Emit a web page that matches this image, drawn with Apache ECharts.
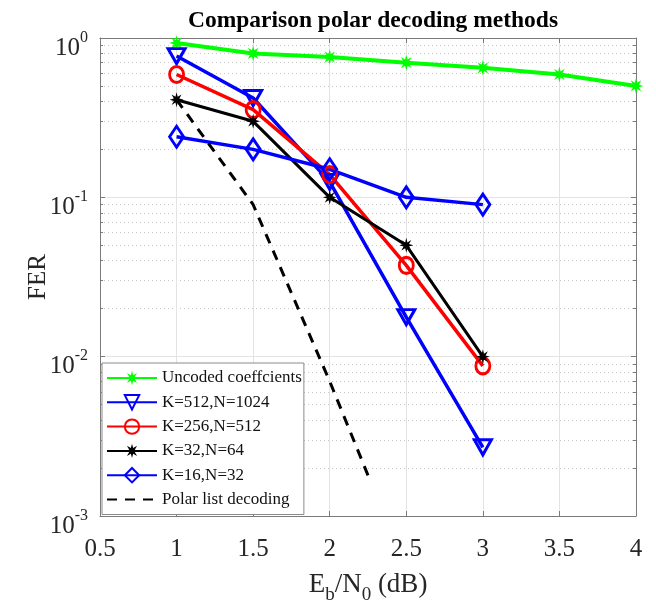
<!DOCTYPE html>
<html>
<head>
<meta charset="utf-8">
<script src="https://cdn.jsdelivr.net/npm/echarts@6/dist/echarts.min.js"></script>
<style>
  html, body { margin: 0; padding: 0; background: #ffffff; }
  #chart { width: 656px; height: 610px; }
</style>
</head>
<body>
<div id="chart"></div>
<script>
// Eb/N0 points (dB)
const ebn0Uncoded = [1, 1.5, 2, 2.5, 3, 3.5, 4];
const ebn0Polar = [1, 1.5, 2, 2.5, 3];
const ebn0List = [1, 1.5, 2, 2.25];

// Frame error rates
const uncoded = [0.93, 0.80, 0.76, 0.70, 0.65, 0.59, 0.50];
const k512n1024 = [0.77, 0.42, 0.125, 0.0177, 0.0027];
const k256n512 = [0.59, 0.355, 0.139, 0.0374, 0.00875];
const k32n64 = [0.41, 0.30, 0.10, 0.05, 0.01];
const k16n32 = [0.24, 0.20, 0.15, 0.10, 0.09];
const polarList = [0.41, 0.09, 0.007, 0.0018];

const seriesNames = [
  'Uncoded coeffcients',
  'K=512,N=1024',
  'K=256,N=512',
  'K=32,N=64',
  'K=16,N=32',
  'Polar list decoding'
];

// Axis ranges
const xMin = 0.5, xMax = 4, xStep = 0.5;
const yMin = 0.001, yMax = 1;

// Minor log ticks (2..9 within each decade)
const minorValues = [];
for (let e = -3; e < 0; e++) {
  for (let m = 2; m <= 9; m++) minorValues.push(+(m * Math.pow(10, e)).toPrecision(3));
}

const serif = "'Liberation Serif', 'Times New Roman', serif";
const axisGray = '#7a7a7a';
const textColor = '#262626';

function pairs(xs, ys) { return xs.map((x, i) => [x, ys[i]]); }

// Asterisk marker outline (8 spokes)
function asteriskPath() {
  const pts = [];
  for (let i = 0; i < 16; i++) {
    const a = i * Math.PI / 8 - Math.PI / 2;
    const r = i % 2 === 0 ? 10 : 4.2;
    pts.push((10 + r * Math.cos(a)).toFixed(2) + ' ' + (10 + r * Math.sin(a)).toFixed(2));
  }
  return 'path://M' + pts.join(' L') + ' Z';
}
const asterisk = asteriskPath();

const chart = echarts.init(document.getElementById('chart'), null, { renderer: 'canvas' });

const option = {
  animation: false,
  backgroundColor: '#ffffff',
  title: {
    text: 'Comparison polar decoding methods',
    left: 368,
    textAlign: 'center',
    top: 4,
    textStyle: { fontFamily: serif, fontWeight: 'bold', fontSize: 23.5, color: '#000' }
  },
  grid: { left: 100, right: 20, top: 38, bottom: 93, containLabel: false },
  legend: {
    orient: 'vertical',
    left: 102,
    top: 363,
    padding: [6, 2, 6, 4],
    itemWidth: 50,
    itemHeight: 18,
    itemGap: 6.3,
    backgroundColor: '#ffffff',
    borderColor: '#8a8a8a',
    borderWidth: 1,
    borderRadius: 0,
    textStyle: { fontFamily: serif, fontSize: 17, lineHeight: 18, color: '#111' },
    data: seriesNames
  },
  xAxis: [
    {
      type: 'value', position: 'bottom', min: xMin, max: xMax, interval: xStep,
      axisLine: { show: true, onZero: false, lineStyle: { color: axisGray, width: 1 } },
      axisTick: { show: true, inside: true, length: 5, lineStyle: { color: axisGray } },
      splitLine: { show: true, lineStyle: { color: '#e3e3e3', width: 1 } },
      axisLabel: { margin: 21, fontFamily: serif, fontSize: 25, color: textColor },
      name: '{n|E}{sub|b}{n|/N}{sub|0}{n| (dB)}',
      nameLocation: 'middle',
      nameGap: 55,
      nameTextStyle: {
        color: textColor,
        rich: {
          n: { fontFamily: serif, fontSize: 27, color: textColor, verticalAlign: 'top', lineHeight: 28 },
          sub: { fontFamily: serif, fontSize: 19, color: textColor, verticalAlign: 'top', lineHeight: 20, padding: [15, 0, 0, 0] }
        }
      }
    },
    {
      type: 'value', position: 'top', min: xMin, max: xMax, interval: xStep,
      axisLine: { show: true, onZero: false, lineStyle: { color: axisGray, width: 1 } },
      axisTick: { show: true, inside: true, length: 5, lineStyle: { color: axisGray } },
      splitLine: { show: false },
      axisLabel: { show: false }
    }
  ],
  yAxis: [
    {
      type: 'log', logBase: 10, position: 'left', min: yMin, max: yMax,
      axisLine: { show: true, onZero: false, lineStyle: { color: axisGray, width: 1 } },
      axisTick: { show: true, inside: true, length: 5, lineStyle: { color: axisGray } },
      splitLine: { show: true, lineStyle: { color: '#e3e3e3', width: 1 } },
      axisLabel: {
        margin: 12,
        padding: [14, 0, 0, 0],
        formatter: v => '{b|10}{s|' + Math.round(Math.log10(v)) + '}',
        rich: {
          b: { fontFamily: serif, fontSize: 25, color: textColor, verticalAlign: 'bottom' },
          s: { fontFamily: serif, fontSize: 16, color: textColor, verticalAlign: 'top', padding: [0, 0, 15, 0] }
        }
      },
      name: 'FER',
      nameLocation: 'middle',
      nameGap: 49,
      nameMoveOverlap: false,
      nameTextStyle: { fontFamily: serif, fontSize: 25, color: textColor }
    },
    {
      type: 'log', logBase: 10, position: 'right', min: yMin, max: yMax,
      axisLine: { show: true, onZero: false, lineStyle: { color: axisGray, width: 1 } },
      axisTick: { show: true, inside: true, length: 5, lineStyle: { color: axisGray } },
      splitLine: { show: false },
      axisLabel: { show: false }
    },
    {
      type: 'log', logBase: 10, position: 'left', min: yMin, max: yMax,
      axisLine: { show: false },
      axisTick: { show: true, inside: true, length: 3, customValues: minorValues, lineStyle: { color: axisGray } },
      splitLine: { show: true, lineStyle: { color: '#c8c8c8', width: 1, type: [1, 3] } },
      axisLabel: { show: false }
    },
    {
      type: 'log', logBase: 10, position: 'right', min: yMin, max: yMax,
      axisLine: { show: false },
      axisTick: { show: true, inside: true, length: 3, customValues: minorValues, lineStyle: { color: axisGray } },
      splitLine: { show: false },
      axisLabel: { show: false }
    }
  ],
  series: [
    {
      name: seriesNames[0], type: 'line', data: pairs(ebn0Uncoded, uncoded),
      symbol: asterisk, symbolSize: [15, 16],
      lineStyle: { color: '#00ff00', width: 4 },
      itemStyle: { color: '#00ff00' }
    },
    {
      name: seriesNames[1], type: 'line', data: pairs(ebn0Polar, k512n1024),
      symbol: 'triangle', symbolRotate: 180, symbolSize: [17, 15],
      lineStyle: { color: '#0000ff', width: 3.5 },
      itemStyle: { color: 'rgba(0,0,0,0)', borderColor: '#0000ff', borderWidth: 3 }
    },
    {
      name: seriesNames[2], type: 'line', data: pairs(ebn0Polar, k256n512),
      symbol: 'circle', symbolSize: [14, 16],
      lineStyle: { color: '#ff0000', width: 3.5 },
      itemStyle: { color: 'rgba(0,0,0,0)', borderColor: '#ff0000', borderWidth: 3 }
    },
    {
      name: seriesNames[3], type: 'line', data: pairs(ebn0Polar, k32n64),
      symbol: asterisk, symbolSize: [14, 15],
      lineStyle: { color: '#000000', width: 3 },
      itemStyle: { color: '#000000' }
    },
    {
      name: seriesNames[4], type: 'line', data: pairs(ebn0Polar, k16n32),
      symbol: 'diamond', symbolSize: [14, 21],
      lineStyle: { color: '#0000ff', width: 3.5 },
      itemStyle: { color: 'rgba(0,0,0,0)', borderColor: '#0000ff', borderWidth: 3 }
    },
    {
      name: seriesNames[5], type: 'line', data: pairs(ebn0List, polarList),
      symbol: 'circle', showSymbol: false,
      lineStyle: { color: '#000000', width: 3, type: [10, 8] },
      itemStyle: { color: 'rgba(0,0,0,0)' }
    }
  ]
};

chart.setOption(option);
</script>
</body>
</html>
